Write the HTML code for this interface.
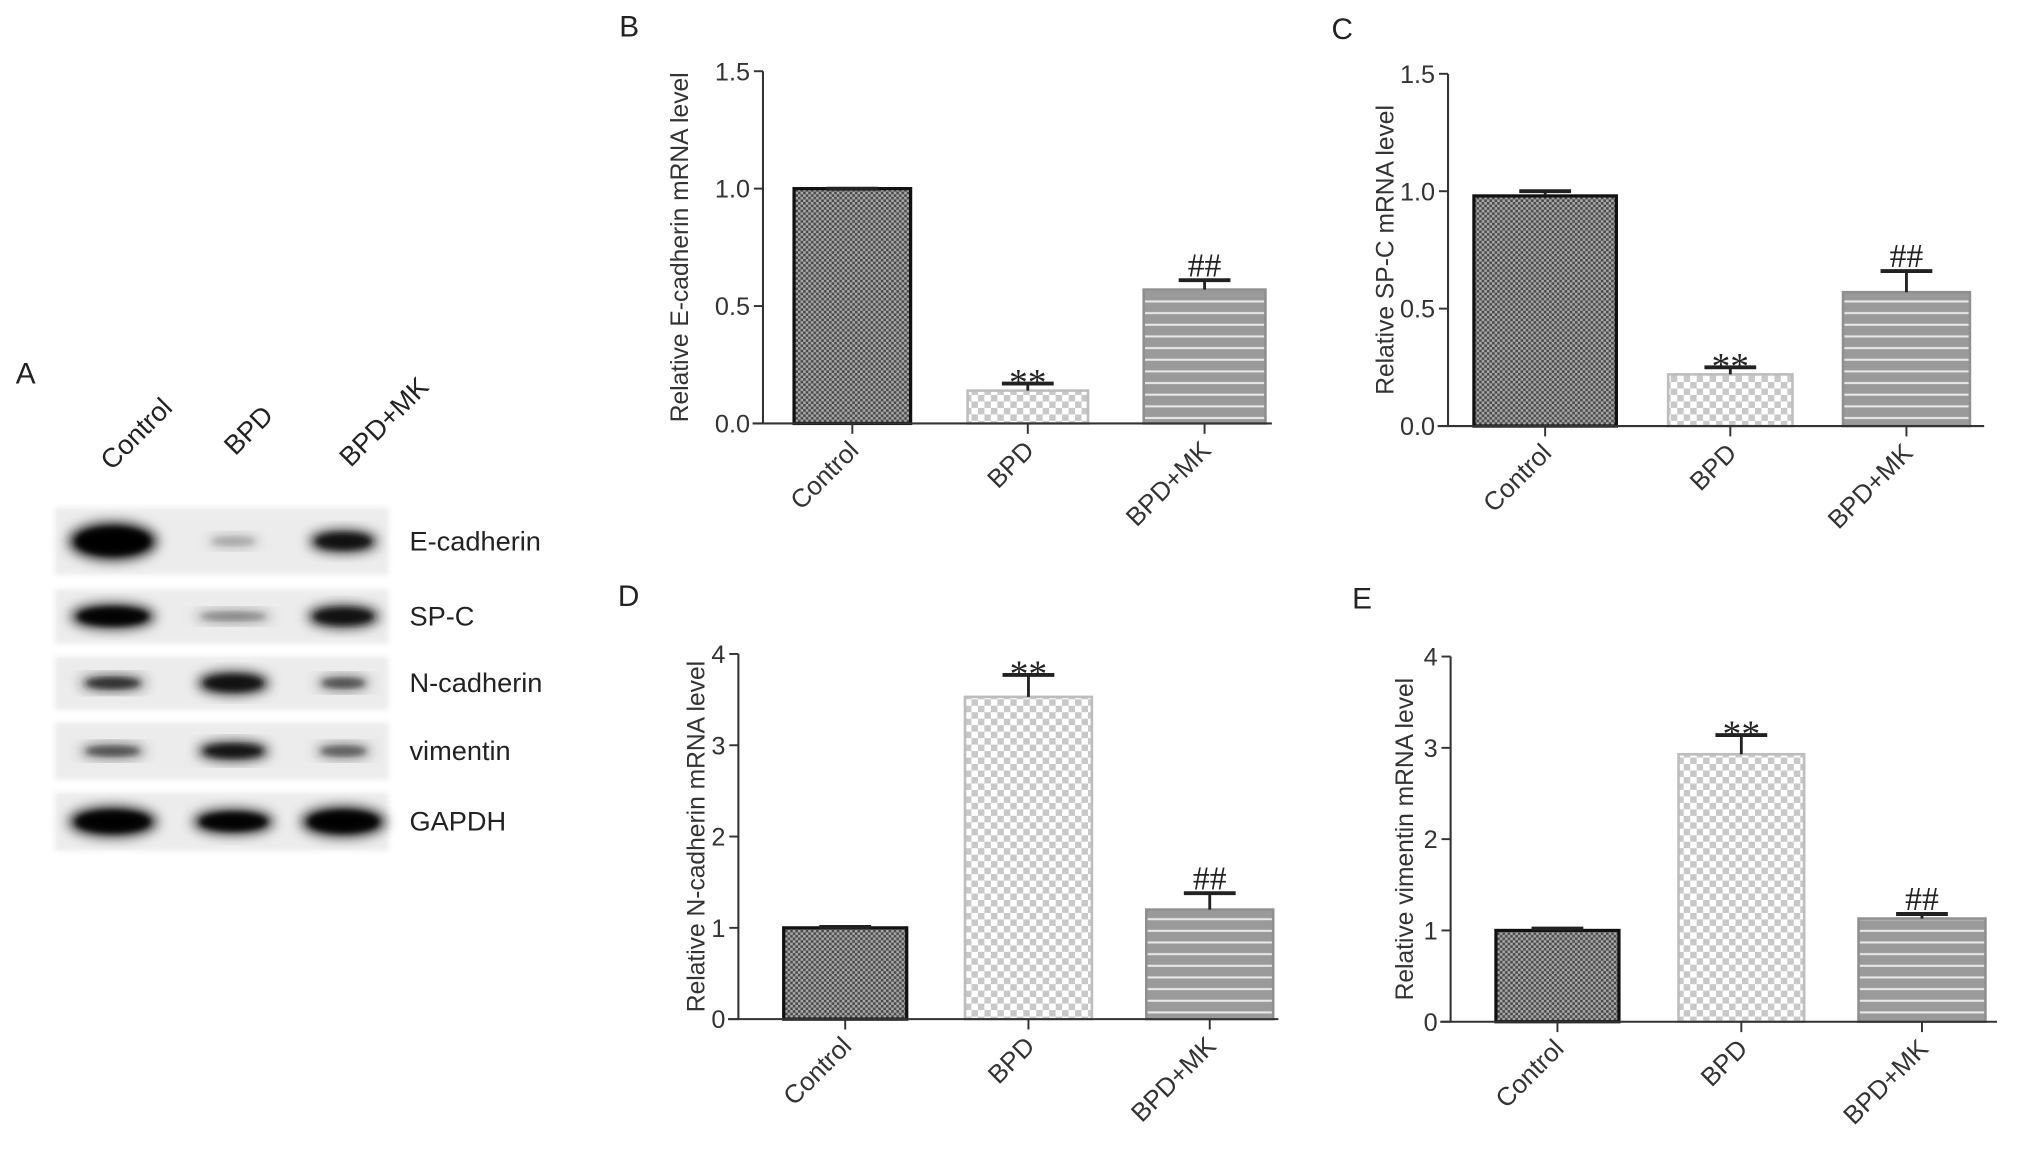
<!DOCTYPE html>
<html><head><meta charset="utf-8">
<style>
html,body{margin:0;padding:0;background:#fff;}
svg{display:block;font-family:"Liberation Sans",Arial,sans-serif;}
</style></head>
<body>
<svg id="fig" xmlns="http://www.w3.org/2000/svg" width="2031" height="1159" viewBox="0 0 1568 895">
<defs>
  <pattern id="pDark" width="4" height="4" patternUnits="userSpaceOnUse">
    <rect width="4" height="4" fill="#a8a8a8"/>
    <rect width="2" height="2" fill="#4a4a4a"/><rect x="2" y="2" width="2" height="2" fill="#4a4a4a"/>
  </pattern>
  <pattern id="pLight" width="10" height="10" patternUnits="userSpaceOnUse">
    <rect width="10" height="10" fill="#ffffff"/>
    <rect width="5" height="5" fill="#c8c8c8"/><rect x="5" y="5" width="5" height="5" fill="#c8c8c8"/>
  </pattern>
  <pattern id="pStripe" width="10" height="9" patternUnits="userSpaceOnUse">
    <rect width="10" height="9" fill="#9a9a9a"/>
    <rect y="7" width="10" height="1.6" fill="#e8e8e8"/>
  </pattern>
  <filter id="blur" x="-50%" y="-50%" width="200%" height="200%"><feGaussianBlur stdDeviation="5"/></filter>
  <filter id="blur2" x="-20%" y="-20%" width="140%" height="140%"><feGaussianBlur stdDeviation="2"/></filter>
</defs>
<g id="blot"></g>
<g id="charts"></g>
</svg>
<script>
const NS="http://www.w3.org/2000/svg";
function mk(parent,tag,attrs,text){const e=document.createElementNS(NS,tag);for(const k in attrs)e.setAttribute(k,attrs[k]);if(text!==undefined)e.textContent=text;parent.appendChild(e);return e;}

// ---------- chart data ----------
const categories=["Control","BPD","BPD+MK"];
const bMeans=[1.0,0.14,0.57];
const bErrTop=[1.0,0.17,0.61];
const cMeans=[0.98,0.22,0.57];
const cErrTop=[1.0,0.25,0.66];
const dMeans=[1.0,3.53,1.2];
const dErrTop=[1.01,3.77,1.38];
const eMeans=[1.0,2.93,1.13];
const eErrTop=[1.02,3.14,1.18];
const ticksSmall=["0.0","0.5","1.0","1.5"];
const ticksSmallVals=[0,0.5,1.0,1.5];
const ticksLarge=["0","1","2","3","4"];
const ticksLargeVals=[0,1,2,3,4];
const sigMarks=["","**","##"];

const panels=[
 {id:"b",letter:"B",lx:478,ly:28,ax:589,top:55,bot:327,end:982,ymax:1.5,ticks:ticksSmall,tv:ticksSmallVals,means:bMeans,err:bErrTop,title:"Relative E-cadherin mRNA level",tx:531,bars:[[613,703],[747,840],[883,977]]},
 {id:"c",letter:"C",lx:1028,ly:30,ax:1118,top:57,bot:329,end:1532,ymax:1.5,ticks:ticksSmall,tv:ticksSmallVals,means:cMeans,err:cErrTop,title:"Relative SP-C mRNA level",tx:1076,bars:[[1138,1248],[1288,1384],[1423,1521]]},
 {id:"d",letter:"D",lx:477,ly:468,ax:570,top:505,bot:787,end:987,ymax:4,ticks:ticksLarge,tv:ticksLargeVals,means:dMeans,err:dErrTop,title:"Relative N-cadherin mRNA level",tx:544,bars:[[605,700],[745,843],[885,983]]},
 {id:"e",letter:"E",lx:1044,ly:470,ax:1120,top:507,bot:789,end:1542,ymax:4,ticks:ticksLarge,tv:ticksLargeVals,means:eMeans,err:eErrTop,title:"Relative vimentin mRNA level",tx:1091,bars:[[1155,1250],[1296,1393],[1435,1533]]}
];
const fills=["url(#pDark)","url(#pLight)","url(#pStripe)"];
const strokes=["#111","#bdbdbd","#8f8f8f"];

const charts=document.getElementById("charts");
panels.forEach(p=>{
  const g=mk(charts,"g",{});
  
  
  const y=v=>p.bot-(v/p.ymax)*(p.bot-p.top);
  const L=mk(g,"text",{x:p.lx,y:p.ly,"font-size":23,fill:"#222"},p.letter);
  
  
  p.bars.forEach((b,i)=>{
    const r=mk(g,"rect",{x:b[0],y:y(p.means[i]),width:b[1]-b[0],height:p.bot-y(p.means[i]),fill:fills[i],stroke:strokes[i],"stroke-width":i==0?2.5:2});
    
    
    const cx=(b[0]+b[1])/2;
    const eg=mk(g,"g",{stroke:"#222","stroke-width":2.2});
    
    
    mk(eg,"line",{x1:cx,x2:cx,y1:y(p.means[i]),y2:y(p.err[i])});
    mk(eg,"line",{x1:cx-20,x2:cx+20,y1:y(p.err[i]),y2:y(p.err[i]),"stroke-width":3});
    if(sigMarks[i]){
      const s=mk(g,"text",{x:cx,y:i==1?y(p.err[i])+9:y(p.err[i])-3,"text-anchor":"middle","font-size":i==1?29:26,fill:"#222","font-family":"Liberation Serif, serif"},sigMarks[i]);
      
      
    }
    mk(g,"line",{x1:cx,x2:cx,y1:p.bot,y2:p.bot+8,stroke:"#333","stroke-width":1.5});
    const t=mk(g,"text",{transform:`translate(${cx+6},${p.bot+22}) rotate(-45)`,"text-anchor":"end","font-size":20,fill:"#333"},categories[i]);
    
    
  });
  const ya=mk(g,"line",{x1:p.ax,x2:p.ax,y1:p.top,y2:p.bot,stroke:"#333","stroke-width":1.6});
  
  
  const xa=mk(g,"line",{x1:p.ax-8,x2:p.end,y1:p.bot,y2:p.bot,stroke:"#333","stroke-width":1.6});
  
  
  p.ticks.forEach((lab,k)=>{
    const yy=y(p.tv[k]);
    mk(g,"line",{x1:p.ax-7,x2:p.ax,y1:yy,y2:yy,stroke:"#333","stroke-width":1.5});
    const tl=mk(g,"text",{x:p.ax-10,y:yy+7,"text-anchor":"end","font-size":19.5,fill:"#333"},lab);
    
    
  });
  const cy=(p.top+p.bot)/2;
  const ti=mk(g,"text",{transform:`translate(${p.tx},${cy}) rotate(-90)`,"text-anchor":"middle","font-size":19,fill:"#333"},p.title);
  
  
});

// ---------- western blot ----------
const blot=document.getElementById("blot");
const proteins=["E-cadherin","SP-C","N-cadherin","vimentin","GAPDH"];
const strips=[[392,444],[455,497],[507,548],[558,602],[612,657]];
const bandDark=[[1,0.3,0.95],[1,0.45,0.95],[0.85,0.95,0.7],[0.7,0.95,0.65],[1,1,1]];
const bandW=[[68,40,52],[65,60,55],[50,55,40],[50,55,42],[68,62,65]];
const bandH=[[28,8,16],[18,8,16],[10,16,9],[9,13,9],[22,18,22]];
const laneX=[87,180,265];
const A=mk(blot,"text",{x:12,y:296,"font-size":23,fill:"#222"},"A");


const laneLabelPos=[[134,316],[212,322],[332,300]];
categories.forEach((c,i)=>{
  const t=mk(blot,"text",{transform:`translate(${laneLabelPos[i][0]},${laneLabelPos[i][1]}) rotate(-45)`,"text-anchor":"end","font-size":21,fill:"#222"},c);
  
  
});
strips.forEach((s,r)=>{
  const g=mk(blot,"g",{});
  
  
  mk(g,"rect",{x:42,y:s[0],width:258,height:s[1]-s[0],fill:"#ececec",filter:"url(#blur2)"});
  const cy=(s[0]+s[1])/2;
  laneX.forEach((lx,l)=>{
    const d=bandDark[r][l];
    const v=Math.round(235-d*230);
    mk(g,"ellipse",{cx:lx,cy:cy,rx:bandW[r][l]/2,ry:bandH[r][l]/2,fill:`rgb(${v},${v},${v})`,filter:"url(#blur)"});
    mk(g,"ellipse",{cx:lx,cy:cy,rx:bandW[r][l]/2.4,ry:bandH[r][l]/2.6,fill:`rgb(${v},${v},${v})`,opacity:0.8,filter:"url(#blur2)"});
  });
  const t=mk(blot,"text",{x:316,y:cy+7,"font-size":21,fill:"#222"},proteins[r]);
  
  
});
</script>
</body></html>
